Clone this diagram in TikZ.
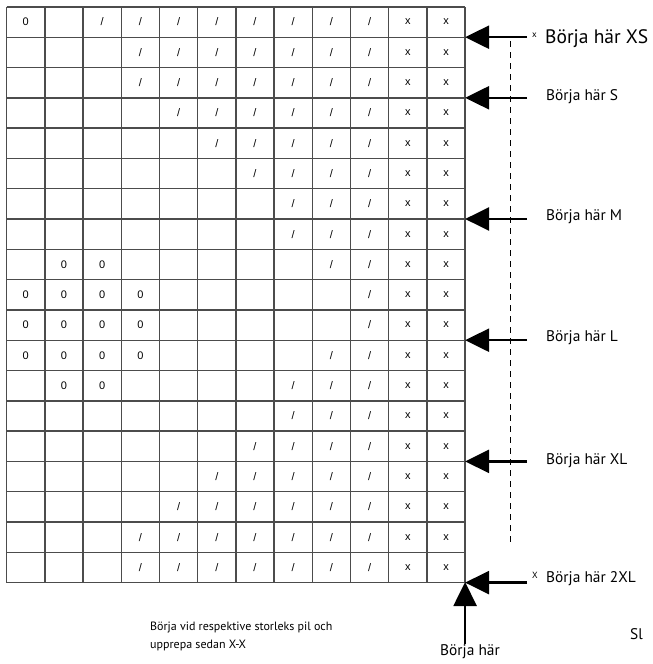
\documentclass[tikz,border=0pt]{standalone}
\usepackage{fontspec}
\setmainfont{PT Sans}
\newfontfamily\cellfont{Liberation Sans}
\usetikzlibrary{arrows.meta}

\begin{document}
\begin{tikzpicture}
[
    x=1pt, y=-1pt,
    cell/.style={font=\cellfont\fontsize{11}{13}\selectfont, inner sep=0pt},
    lab/.style={anchor=west, inner sep=0pt, font=\fontsize{15.4}{17}\selectfont},
    sizemark/.style={anchor=west, inner sep=0pt, font=\fontsize{9}{10}\selectfont},
    pil/.style={line width=2.5pt, -{Triangle[length=24pt, width=23pt]}},
]
\useasboundingbox (0,0) rectangle (653,664);
\def\cw{38.2}
\def\ch{30.3}

% grid
\foreach \i in {0,...,12}
    \draw[black!70, line width=1.4pt] ({6.7+\cw*\i},6.9) -- ({6.7+\cw*\i},{6.9+\ch*19});
\foreach \j in {0,...,19}
    \draw[black!70, line width=1.4pt] (6.7,{6.9+\ch*\j}) -- ({6.7+\cw*12},{6.9+\ch*\j});

\foreach \r/\s in {1/3,2/4,3/4,4/5,5/6,6/7,7/8,8/8,9/9,10/10,
                   11/10,12/9,13/8,14/8,15/7,16/6,17/5,18/4,19/4}
{
    \foreach \c in {\s,...,10}
        \node[cell] (s-\r-\c) at ({6.7+\cw*(\c-0.5)},{6.9+\ch*(\r-0.5)}) {/};
    \foreach \c in {11,12}
        \node[cell] (x-\r-\c) at ({6.7+\cw*(\c-0.5)},{6.9+\ch*(\r-0.5)}) {x};
}
\foreach \r/\c in {1/1,9/2,9/3,10/1,10/2,10/3,10/4,11/1,11/2,11/3,11/4,
                   12/1,12/2,12/3,12/4,13/2,13/3}
    \node[cell] (z-\r-\c) at ({6.7+\cw*(\c-0.5)},{6.9+\ch*(\r-0.5)}) {0};

% arrows
\foreach \n/\l in {XS/1,S/3,M/7,L/11,XL/15,XXL/19}
{
    \coordinate (e-\n) at ({6.7+\cw*12},{6.9+\ch*\l});
    \coordinate (t-\n) at (527,{6.9+\ch*\l});
    \draw[pil] (t-\n) -- (e-\n);
}
\coordinate (d-top) at (510.7,41);
\coordinate (d-bot) at (510.7,545);
\draw[line width=1.2pt, dash pattern=on 6pt off 5pt] (d-top) -- (d-bot);

\node[sizemark] (m-XS) at (532,35) {x};
\node[lab, font=\fontsize{19.5}{21}\selectfont] (l-XS) at (545,39) {Börja här XS};
\node[lab] (l-S) at (546,97) {Börja här S};
\node[lab] (l-M) at (546,217) {Börja här M};
\node[lab] (l-L) at (546,338) {Börja här L};
\node[lab] (l-XL) at (546,461) {Börja här XL};
\node[sizemark] (m-XXL) at (532,575) {X};
\node[lab] (l-XXL) at (546,579) {Börja här 2XL};

\coordinate (u-tip) at ({6.7+\cw*12},582);
\coordinate (u-tail) at ({6.7+\cw*12},644);
\draw[pil] (u-tail) -- (u-tip);
\node[lab, anchor=center] (l-up) at (470,652) {Börja här};

\node[anchor=north west, inner sep=0pt, align=left,
      font=\fontsize{12}{18}\selectfont] (note) at (150,622)
    {Börja vid respektive storleks pil och\\upprepa sedan X-X};
\node[lab] (l-end) at (630,634) {Sl};
\end{tikzpicture}
\end{document}
